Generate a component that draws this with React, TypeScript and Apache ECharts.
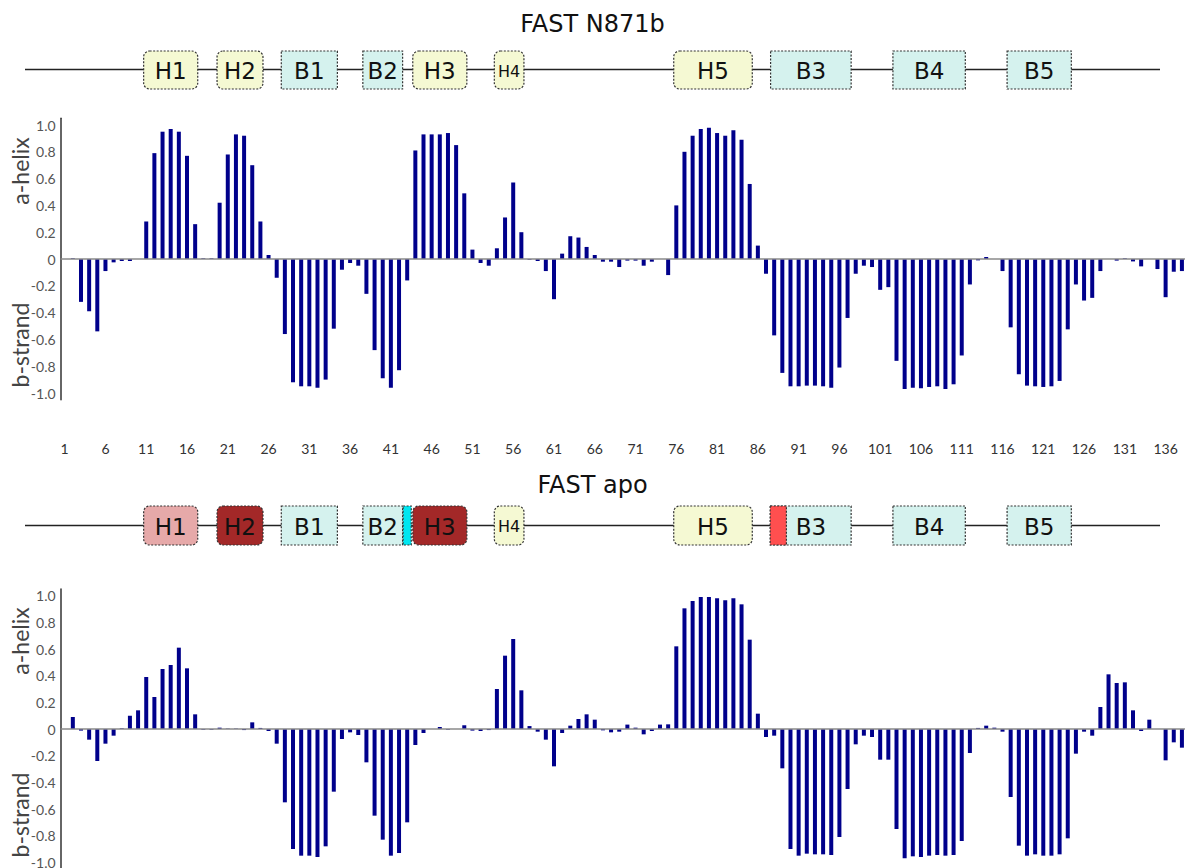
import React, { useEffect, useRef } from "react";
import * as echarts from "echarts";

// residue numbers 1..138
const residues: string[] = Array.from({ length: 138 }, (_, i) => String(i + 1));

// FAST N871b: helix (+) / strand (-) propensity per residue
const n871bValues: number[] = [
  0, 0.005, -0.32, -0.39, -0.54, -0.09, -0.025, -0.015, -0.015, 0,
  0.28, 0.79, 0.95, 0.97, 0.95, 0.77, 0.26, 0.005, 0.005, 0.42,
  0.78, 0.93, 0.92, 0.7, 0.28, 0.03, -0.14, -0.56, -0.92, -0.95,
  -0.95, -0.96, -0.9, -0.52, -0.08, -0.03, -0.05, -0.26, -0.68, -0.89,
  -0.96, -0.83, -0.16, 0.81, 0.93, 0.93, 0.93, 0.94, 0.85, 0.49,
  0.07, -0.03, -0.05, 0.08, 0.31, 0.57, 0.2, -0.005, -0.015, -0.09,
  -0.3, 0.04, 0.17, 0.16, 0.09, 0.03, -0.02, -0.02, -0.06, -0.012,
  -0.012, -0.05, -0.02, 0, -0.12, 0.4, 0.8, 0.92, 0.97, 0.98,
  0.94, 0.92, 0.96, 0.89, 0.56, 0.1, -0.11, -0.57, -0.85, -0.95,
  -0.95, -0.945, -0.945, -0.95, -0.96, -0.81, -0.44, -0.11, -0.05, -0.06,
  -0.23, -0.21, -0.76, -0.97, -0.96, -0.965, -0.955, -0.95, -0.97, -0.935,
  -0.72, -0.19, -0.01, 0.015, 0, -0.09, -0.51, -0.86, -0.945, -0.95,
  -0.955, -0.95, -0.91, -0.525, -0.19, -0.31, -0.29, -0.09, 0, -0.012,
  0.005, -0.018, -0.055, 0, -0.075, -0.285, -0.095, -0.09,
];

// FAST apo
const apoValues: number[] = [
  0, 0.09, -0.012, -0.08, -0.24, -0.11, -0.05, 0.005, 0.1, 0.14,
  0.39, 0.24, 0.45, 0.48, 0.61, 0.455, 0.11, -0.005, -0.005, 0.01,
  0.003, 0.003, -0.008, 0.05, 0.008, -0.015, -0.11, -0.55, -0.9, -0.95,
  -0.95, -0.96, -0.88, -0.47, -0.075, -0.025, -0.045, -0.25, -0.65, -0.83,
  -0.95, -0.93, -0.7, -0.12, -0.03, 0, 0.015, -0.005, 0, 0.028,
  -0.012, -0.015, -0.008, 0.3, 0.55, 0.675, 0.29, 0.022, -0.02, -0.08,
  -0.28, -0.03, 0.025, 0.075, 0.11, 0.07, -0.01, -0.025, -0.02, 0.033,
  0.01, -0.04, -0.015, 0.033, 0.035, 0.62, 0.905, 0.96, 0.99, 0.99,
  0.98, 0.965, 0.98, 0.935, 0.67, 0.115, -0.06, -0.05, -0.295, -0.9,
  -0.95, -0.935, -0.94, -0.94, -0.945, -0.81, -0.45, -0.115, -0.05, -0.06,
  -0.23, -0.23, -0.75, -0.97, -0.955, -0.96, -0.95, -0.945, -0.95, -0.945,
  -0.84, -0.18, 0.008, 0.025, 0.01, -0.02, -0.51, -0.875, -0.95, -0.94,
  -0.95, -0.95, -0.94, -0.82, -0.185, -0.02, -0.05, 0.165, 0.41, 0.345,
  0.35, 0.14, -0.015, 0.07, 0, -0.235, -0.1, -0.14,
];

// secondary-structure elements: [label, first residue, last residue, kind]
type Seg = [string, number, number, string];
const n871bSegments: Seg[] = [
  ["H1", 11, 17, "helix"],
  ["H2", 20, 25, "helix"],
  ["B1", 28, 34, "strand"],
  ["B2", 38, 42, "strand"],
  ["H3", 44, 50, "helix"],
  ["H4", 54, 57, "helix"],
  ["H5", 76, 85, "helix"],
  ["B3", 88, 97, "strand"],
  ["B4", 103, 111, "strand"],
  ["B5", 117, 124, "strand"],
];
const apoSegments: Seg[] = [
  ["H1", 11, 17, "helixLight"],
  ["H2", 20, 25, "helixDark"],
  ["B1", 28, 34, "strand"],
  ["B2", 38, 42, "strand"],
  ["H3", 44, 50, "helixDark"],
  ["H4", 54, 57, "helix"],
  ["H5", 76, 85, "helix"],
  ["B3", 88, 97, "strand"],
  ["B4", 103, 111, "strand"],
  ["B5", 117, 124, "strand"],
];
// highlighted residue stretches in apo: [first, last, kind]
type Mark = [number, number, string];
const apoMarks: Mark[] = [
  [43, 43, "cyan"],
  [88, 89, "red"],
];

const kindFill: Record<string, string> = {
  helix: "#f5f9d3",
  helixLight: "#e6a9a9",
  helixDark: "#a32828",
  strand: "#d5f2ee",
  cyan: "#00e6f0",
  red: "#ff4f4f",
};

const BAR_COLOR = "#00008b";

function segRenderer(segs: Seg[]) {
  return (params: any, api: any) => {
    const seg = segs[params.dataIndex];
    const s = api.value(0);
    const e = api.value(1);
    const bw = api.size([1, 0])[0];
    const isHelix = seg[3] !== "strand";
    const inset = isHelix ? 1.5 : 0.5;
    const x0 = api.coord([s, 0])[0] - bw / 2 + inset;
    const x1 = api.coord([e, 0])[0] + bw / 2 - inset;
    const yTop = api.coord([s, 1])[1];
    const yBot = api.coord([s, 0])[1];
    const small = seg[0] === "H4";
    return {
      type: "group",
      children: [
        {
          type: "rect",
          shape: { x: x0, y: yTop, width: x1 - x0, height: yBot - yTop, r: isHelix ? 6 : 0 },
          style: { fill: kindFill[seg[3]], stroke: "#333", lineWidth: 1.2, lineDash: [2, 1.5] },
        },
        {
          type: "text",
          style: {
            text: seg[0],
            x: (x0 + x1) / 2,
            y: (yTop + yBot) / 2 + 1,
            align: "center",
            verticalAlign: "middle",
            font: (small ? "16px" : "23px") + ' "DejaVu Sans", sans-serif',
            fill: "#111",
          },
        },
      ],
    };
  };
}

function markRenderer(marks: Mark[]) {
  return (params: any, api: any) => {
    const m = marks[params.dataIndex];
    const s = api.value(0);
    const e = api.value(1);
    const bw = api.size([1, 0])[0];
    const x0 = api.coord([s, 0])[0] - bw / 2;
    const x1 = api.coord([e, 0])[0] + bw / 2;
    const yTop = api.coord([s, 1])[1];
    const yBot = api.coord([s, 0])[1];
    return {
      type: "rect",
      shape: { x: x0, y: yTop, width: x1 - x0, height: yBot - yTop },
      style: { fill: kindFill[m[2]], stroke: "#333", lineWidth: 1.2, lineDash: [2, 1.5] },
    };
  };
}

const GRID_LEFT = 60.6;
const GRID_WIDTH = 1125.4;

function yLabel(v: number) {
  if (Math.abs(v) > 1.0001) return "";
  if (Math.abs(v) < 1e-9) return "0";
  return v.toFixed(1);
}

export default function App() {
  const ref = useRef<HTMLDivElement>(null);
  useEffect(() => {
    if (!ref.current) return;
    const chart = echarts.init(ref.current, undefined, { renderer: "svg" });

    const valueAxis = (gridIndex: number) => ({
      type: "value",
      gridIndex,
      min: -1.05,
      max: 1.05,
      splitNumber: 10,
      axisLine: { show: true, lineStyle: { color: "#333", width: 1.5 } },
      axisTick: { show: false },
      splitLine: { show: false },
      axisLabel: {
        formatter: yLabel,
        color: "#555",
        fontFamily: "Lato",
        fontSize: 14,
        margin: 5,
      },
    });
    const catAxis = (gridIndex: number, showLabels: boolean) => ({
      type: "category",
      gridIndex,
      data: residues,
      boundaryGap: true,
      axisLine: { show: false },
      axisTick: { show: false },
      axisLabel: showLabels
        ? { interval: 4, color: "#333", fontFamily: "Lato", fontSize: 14, margin: 42 }
        : { show: false },
    });
    const hiddenY = (gridIndex: number) => ({
      type: "value",
      gridIndex,
      min: 0,
      max: 1,
      show: false,
    });
    const zeroLine = {
      silent: true,
      symbol: ["none", "none"],
      label: { show: false },
      lineStyle: { color: "#8a8a8a", width: 1.5, type: "solid" },
      data: [{ yAxis: 0 }],
    };
    const gridBase = { left: GRID_LEFT, width: GRID_WIDTH, containLabel: false, outerBoundsMode: "none" };

    const option: any = {
      animation: false,
      title: [
        {
          text: "FAST N871b",
          left: "center",
          top: 7,
          textStyle: { fontFamily: "DejaVu Sans", fontSize: 24, fontWeight: "normal", color: "#111" },
        },
        {
          text: "FAST apo",
          left: "center",
          top: 468,
          textStyle: { fontFamily: "DejaVu Sans", fontSize: 24, fontWeight: "normal", color: "#111" },
        },
      ],
      grid: [
        { ...gridBase, top: 118.3, height: 281.4 },
        { ...gridBase, top: 589, height: 280 },
        { ...gridBase, top: 51, height: 38 },
        { ...gridBase, top: 506, height: 39 },
      ],
      xAxis: [catAxis(0, true), catAxis(1, false), catAxis(2, false), catAxis(3, false)],
      yAxis: [valueAxis(0), valueAxis(1), hiddenY(2), hiddenY(3)],
      graphic: [
        { type: "line", z: 0, shape: { x1: 25, y1: 69.5, x2: 1160, y2: 69.5 }, style: { stroke: "#222", lineWidth: 1.5 } },
        { type: "line", z: 0, shape: { x1: 25, y1: 525.5, x2: 1160, y2: 525.5 }, style: { stroke: "#222", lineWidth: 1.5 } },
        { type: "text", x: 20, y: 171, rotation: Math.PI / 2, style: { text: "a-helix", font: '23px Lato, sans-serif', fill: "#444", align: "center", verticalAlign: "middle" } },
        { type: "text", x: 20, y: 345, rotation: Math.PI / 2, style: { text: "b-strand", font: '23px Lato, sans-serif', fill: "#444", align: "center", verticalAlign: "middle" } },
        { type: "text", x: 20, y: 641, rotation: Math.PI / 2, style: { text: "a-helix", font: '23px Lato, sans-serif', fill: "#444", align: "center", verticalAlign: "middle" } },
        { type: "text", x: 20, y: 815, rotation: Math.PI / 2, style: { text: "b-strand", font: '23px Lato, sans-serif', fill: "#444", align: "center", verticalAlign: "middle" } },
      ],
      series: [
        {
          type: "bar",
          xAxisIndex: 0,
          yAxisIndex: 0,
          data: n871bValues,
          barWidth: 4,
          itemStyle: { color: BAR_COLOR },
          markLine: zeroLine,
        },
        {
          type: "bar",
          xAxisIndex: 1,
          yAxisIndex: 1,
          data: apoValues,
          barWidth: 4,
          itemStyle: { color: BAR_COLOR },
          markLine: zeroLine,
        },
        {
          type: "custom",
          xAxisIndex: 2,
          yAxisIndex: 2,
          z: 3,
          renderItem: segRenderer(n871bSegments),
          data: n871bSegments.map((s) => [s[1] - 1, s[2] - 1]),
          encode: { x: [0, 1] },
          clip: false,
        },
        {
          type: "custom",
          xAxisIndex: 3,
          yAxisIndex: 3,
          z: 3,
          renderItem: segRenderer(apoSegments),
          data: apoSegments.map((s) => [s[1] - 1, s[2] - 1]),
          encode: { x: [0, 1] },
          clip: false,
        },
        {
          type: "custom",
          xAxisIndex: 3,
          yAxisIndex: 3,
          z: 4,
          renderItem: markRenderer(apoMarks),
          data: apoMarks.map((m) => [m[0] - 1, m[1] - 1]),
          encode: { x: [0, 1] },
          clip: false,
        },
      ],
    };
    chart.setOption(option);
    return () => chart.dispose();
  }, []);
  return (
    <div
      ref={ref}
      style={{ position: "absolute", left: 0, top: 0, width: 1185, height: 868, background: "#fff" }}
    />
  );
}
